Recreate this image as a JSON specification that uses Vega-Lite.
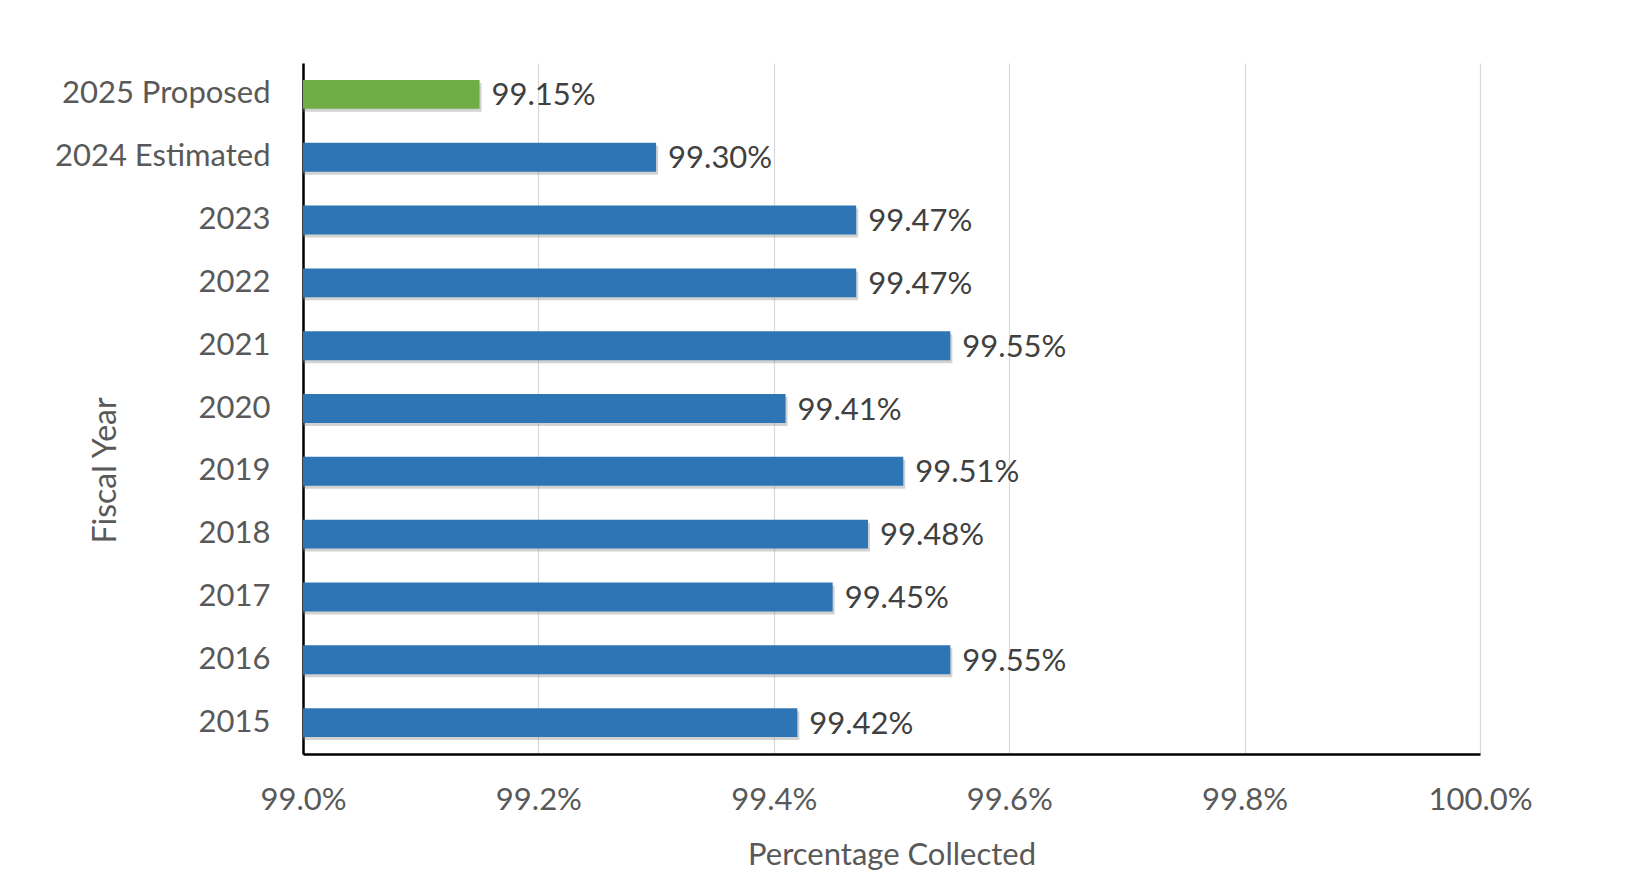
{
  "$schema": "https://vega.github.io/schema/vega-lite/v6.json",
  "width": 1177,
  "height": 691,
  "autosize": {"type": "none"},
  "padding": {"left": 303, "top": 63, "right": 158, "bottom": 135},
  "background": "white",
  "config": {
    "view": {"stroke": null},
    "font": "Lato",
    "axis": {"labelFont": "Lato", "titleFont": "Lato"}
  },
  "data": {
    "values": [
      {"year": "2025 Proposed", "pct": 99.15, "kind": "Proposed", "label": "99.15%"},
      {"year": "2024 Estimated", "pct": 99.30, "kind": "Actual", "label": "99.30%"},
      {"year": "2023", "pct": 99.47, "kind": "Actual", "label": "99.47%"},
      {"year": "2022", "pct": 99.47, "kind": "Actual", "label": "99.47%"},
      {"year": "2021", "pct": 99.55, "kind": "Actual", "label": "99.55%"},
      {"year": "2020", "pct": 99.41, "kind": "Actual", "label": "99.41%"},
      {"year": "2019", "pct": 99.51, "kind": "Actual", "label": "99.51%"},
      {"year": "2018", "pct": 99.48, "kind": "Actual", "label": "99.48%"},
      {"year": "2017", "pct": 99.45, "kind": "Actual", "label": "99.45%"},
      {"year": "2016", "pct": 99.55, "kind": "Actual", "label": "99.55%"},
      {"year": "2015", "pct": 99.42, "kind": "Actual", "label": "99.42%"}
    ]
  },
  "encoding": {
    "y": {
      "field": "year",
      "type": "nominal",
      "sort": null,
      "scale": {"paddingInner": 0.54, "paddingOuter": 0.27},
      "axis": {
        "title": "Fiscal Year",
        "titleFontSize": 32,
        "titleFontWeight": "normal",
        "titleColor": "#595959",
        "titleX": -198,
        "titleY": 407,
        "titleAngle": 270,
        "titleAlign": "center",
        "titleBaseline": "middle",
        "labelFontSize": 31,
        "labelColor": "#595959",
        "labelPadding": 33,
        "labelLimit": 400,
        "ticks": false,
        "domain": true,
        "domainColor": "#000000",
        "domainWidth": 2.5,
        "grid": false
      }
    },
    "x": {
      "field": "pct",
      "type": "quantitative",
      "scale": {"domain": [99.0, 100.0], "zero": false, "nice": false},
      "axis": {
        "title": "Percentage Collected",
        "titleFontSize": 31,
        "titleFontWeight": "normal",
        "titleColor": "#595959",
        "titleY": 101,
        "titleBaseline": "middle",
        "values": [99.0, 99.2, 99.4, 99.6, 99.8, 100.0],
        "labelExpr": "format(datum.value, '.1f') + '%'",
        "labelFontSize": 31,
        "labelColor": "#595959",
        "labelPadding": 46,
        "labelBaseline": "middle",
        "labelFlush": false,
        "ticks": false,
        "domain": true,
        "domainColor": "#000000",
        "domainWidth": 2.5,
        "grid": true,
        "gridColor": "#d9d9d9",
        "gridWidth": 1.2
      }
    }
  },
  "layer": [
    {
      "mark": {"type": "bar", "color": "#7f7f7f", "opacity": 0.35, "yOffset": 3, "xOffset": 2, "cornerRadius": 1},
      "encoding": {"x2": {"datum": 99.0}}
    },
    {
      "mark": {"type": "bar"},
      "encoding": {
        "x2": {"datum": 99.0},
        "color": {
          "field": "kind",
          "type": "nominal",
          "scale": {"domain": ["Proposed", "Actual"], "range": ["#70AD47", "#2E75B6"]},
          "legend": null
        }
      }
    },
    {
      "mark": {"type": "text", "align": "left", "baseline": "middle", "dx": 12, "dy": 2, "fontSize": 31, "color": "#404040", "font": "Lato"},
      "encoding": {"text": {"field": "label"}}
    }
  ]
}
